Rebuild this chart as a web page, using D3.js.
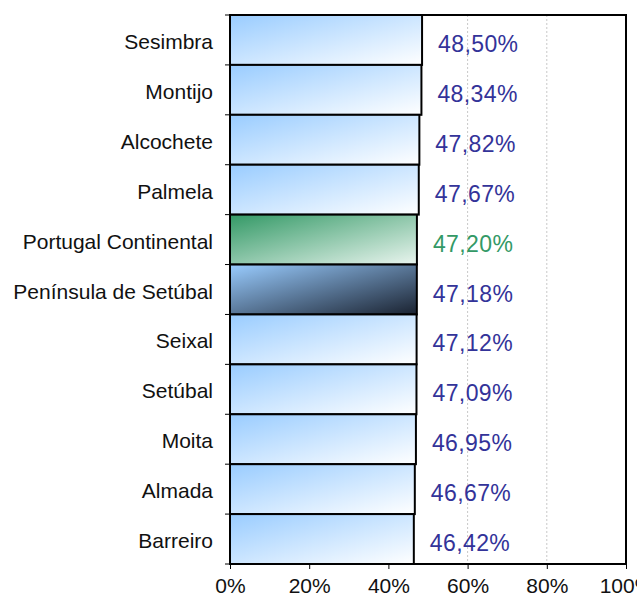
<!DOCTYPE html>
<html>
<head>
<meta charset="utf-8">
<script src="https://cdn.jsdelivr.net/npm/d3@7"></script>
<style>
  body { margin: 0; background: #fff; }
  text { font-family: "Liberation Sans", Arial, sans-serif; }
</style>
</head>
<body>
<div id="chart"></div>
<script>
// categories and values (percent)
const places = ["Sesimbra", "Montijo", "Alcochete", "Palmela", "Portugal Continental",
  "Península de Setúbal", "Seixal", "Setúbal", "Moita", "Almada", "Barreiro"];
const values = [48.50, 48.34, 47.82, 47.67, 47.20, 47.18, 47.12, 47.09, 46.95, 46.67, 46.42];
const xTicks = [0, 20, 40, 60, 80, 100];

const width = 637, height = 601;
const margin = { top: 15, right: 11, bottom: 37, left: 230 };
const plotW = width - margin.left - margin.right;
const plotH = height - margin.top - margin.bottom;

const svg = d3.select("#chart").append("svg")
  .attr("width", width)
  .attr("height", height);

// gradients
const defs = svg.append("defs");
function grad(id, c1, c2) {
  const g = defs.append("linearGradient").attr("id", id)
    .attr("x1", 0).attr("y1", 0).attr("x2", 1).attr("y2", 1);
  g.append("stop").attr("offset", "0%").attr("stop-color", c1);
  g.append("stop").attr("offset", "100%").attr("stop-color", c2);
}
grad("gBlue", "#99ccff", "#ffffff");
grad("gGreen", "#339966", "#eaf5ef");
grad("gDark", "#99ccff", "#1a2230");

function fillFor(name) {
  if (name === "Portugal Continental") return "url(#gGreen)";
  if (name === "Península de Setúbal") return "url(#gDark)";
  return "url(#gBlue)";
}

const x = d3.scaleLinear().domain([0, 100]).range([0, plotW]);
const y = d3.scaleBand().domain(places).range([0, plotH]).padding(0);

const g = svg.append("g").attr("transform", `translate(${margin.left},${margin.top})`);

// gridlines
g.selectAll("line.grid")
  .data(xTicks.filter(d => d > 0 && d < 100))
  .enter().append("line")
  .attr("class", "grid")
  .attr("x1", d => x(d)).attr("x2", d => x(d))
  .attr("y1", 0).attr("y2", plotH)
  .attr("stroke", "#c8c8c8")
  .attr("stroke-dasharray", "2,2");

// bars
g.selectAll("rect.bar")
  .data(places)
  .enter().append("rect")
  .attr("class", "bar")
  .attr("x", 0)
  .attr("y", d => y(d))
  .attr("width", (d, i) => x(values[i]))
  .attr("height", y.bandwidth())
  .attr("fill", d => fillFor(d))
  .attr("stroke", "#000")
  .attr("stroke-width", 2);

// value labels
g.selectAll("text.val")
  .data(places)
  .enter().append("text")
  .attr("class", "val")
  .attr("x", (d, i) => x(values[i]) + 16)
  .attr("y", d => y(d) + y.bandwidth() / 2 + 12)
  .attr("font-size", 23)
  .attr("letter-spacing", 0.4)
  .attr("fill", d => d === "Portugal Continental" ? "#339966" : "#333399")
  .text((d, i) => values[i].toFixed(2).replace(".", ",") + "%");

// frame
g.append("rect")
  .attr("x", 0).attr("y", 0)
  .attr("width", plotW).attr("height", plotH)
  .attr("fill", "none")
  .attr("stroke", "#000")
  .attr("stroke-width", 2);

// y axis: category names and boundary ticks
const bounds = places.map(d => y(d)).concat([plotH]);
g.selectAll("line.ytick")
  .data(bounds)
  .enter().append("line")
  .attr("x1", -5).attr("x2", 0)
  .attr("y1", d => d).attr("y2", d => d)
  .attr("stroke", "#000");

g.selectAll("text.cat")
  .data(places)
  .enter().append("text")
  .attr("class", "cat")
  .attr("x", -17)
  .attr("y", d => y(d) + y.bandwidth() / 2 + 9)
  .attr("text-anchor", "end")
  .attr("font-size", 21)
  .attr("fill", "#111")
  .text(d => d);

// x axis
const xAxis = d3.axisBottom(x)
  .tickValues(xTicks)
  .tickSize(5)
  .tickFormat(d => d + "%");
const ax = g.append("g")
  .attr("transform", `translate(0,${plotH})`)
  .call(xAxis);
ax.select(".domain").remove();
ax.selectAll("line").attr("stroke", "#000");
ax.selectAll("text")
  .attr("font-size", 21)
  .attr("font-family", "Liberation Sans, Arial, sans-serif")
  .attr("fill", "#111")
  .attr("dy", "1.0em");
</script>
</body>
</html>
